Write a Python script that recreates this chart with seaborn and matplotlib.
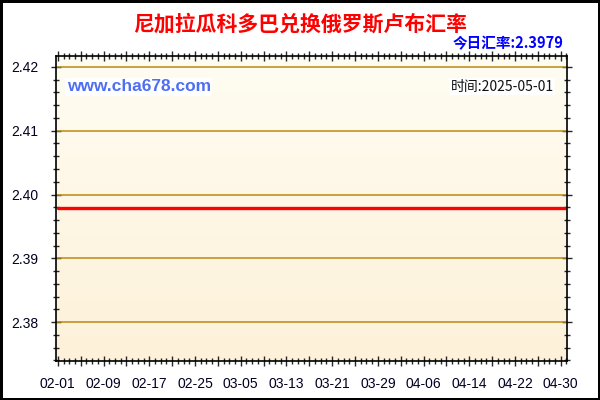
import numpy as np
import pandas as pd
import matplotlib
matplotlib.use("Agg")
import matplotlib.pyplot as plt
import matplotlib.dates as mdates
import matplotlib.ticker as mticker
import seaborn as sns

# data: flat rate over the whole period
dates = pd.date_range("2025-02-01", "2025-05-01", freq="D")
rates = [2.3979] * len(dates)
y_ticks = [2.38, 2.39, 2.40, 2.41, 2.42]
title = "尼加拉瓜科多巴兑换俄罗斯卢布汇率"
today_rate = "今日汇率:2.3979"
site = "www.cha678.com"
stamp = "时间:2025-05-01"

df = pd.DataFrame({"date": dates, "rate": rates})

sns.set_style("ticks")
plt.rcParams["font.family"] = ["Liberation Sans", "Noto Sans CJK SC", "DejaVu Sans"]

fig = plt.figure(figsize=(6, 4), dpi=100)
fig.patch.set_facecolor("white")
fig.patch.set_edgecolor("black")
fig.patch.set_linewidth(2.5)
ax = fig.add_axes([0.0925, 0.0975, 0.852, 0.7615])

# cream gradient background
grad = np.linspace(0, 1, 256).reshape(-1, 1)
cmap = matplotlib.colors.LinearSegmentedColormap.from_list("bg", ["#FFFDF2", "#FDF1D9"])
ax.imshow(grad, cmap=cmap, aspect="auto", extent=[0, 1, 0, 1],
          transform=ax.transAxes, zorder=0)

for yv in y_ticks:
    ax.axhline(yv, color="#B98A12", lw=1.1, zorder=1)

sns.lineplot(data=df, x="date", y="rate", color="#FF0000", lw=2.4, ax=ax, zorder=3)

x0 = mdates.date2num(pd.Timestamp("2025-02-01"))
ax.set_xlim(x0 - 0.4, x0 + 89.05)
ax.set_ylim(2.3739, 2.42165)
ax.set_xlabel("")
ax.set_ylabel("")

major_days = mdates.date2num(pd.date_range("2025-02-01", "2025-04-30", freq="4D"))
ax.set_xticks(major_days)
ax.xaxis.set_major_formatter(mticker.FuncFormatter(
    lambda v, i: mdates.num2date(v).strftime("%m-%d") if i % 2 == 0 else ""))
ax.set_xticks(mdates.date2num(pd.date_range("2025-02-01", "2025-05-01", freq="D")), minor=True)
ax.set_yticks(y_ticks)
ax.set_yticklabels([f"{v:.2f}" for v in y_ticks])
ax.set_yticks(np.arange(2.374, 2.4217, 0.002), minor=True)

ax.tick_params(axis="both", which="major", direction="inout", length=7, width=1,
               labelsize=10, labelcolor="#000022")
ax.tick_params(axis="x", which="major", pad=8)
ax.tick_params(axis="y", which="major", pad=9)
ax.tick_params(axis="both", which="minor", direction="inout", length=4.5, width=1)
ax.tick_params(top=True, right=True, which="both")

for s in ax.spines.values():
    s.set_color("black")
    s.set_linewidth(1.2)
    s.set_zorder(4)

fig.text(0.5, 0.94, title, ha="center", va="center", color="#FF0000",
         fontsize=15, fontweight="bold", family=["Noto Sans CJK SC", "DejaVu Sans"])
fig.text(0.939, 0.893, today_rate, ha="right", va="center", color="#0000FF",
         fontsize=10.5, fontweight="bold", family=["Noto Sans CJK SC", "DejaVu Sans"])
ax.text(0.022, 0.9, site, transform=ax.transAxes, ha="left", va="center",
        color="#4F6FF0", fontsize=12.5, fontweight="bold", family="Liberation Sans",
        bbox=dict(facecolor="white", edgecolor="none", pad=1), zorder=5)
ax.text(0.975, 0.9, stamp, transform=ax.transAxes, ha="right", va="center",
        color="#111111", fontsize=10, family=["Noto Sans CJK SC", "DejaVu Sans"],
        bbox=dict(facecolor="white", edgecolor="none", pad=1), zorder=5)

fig.savefig("out.png", dpi=100)
